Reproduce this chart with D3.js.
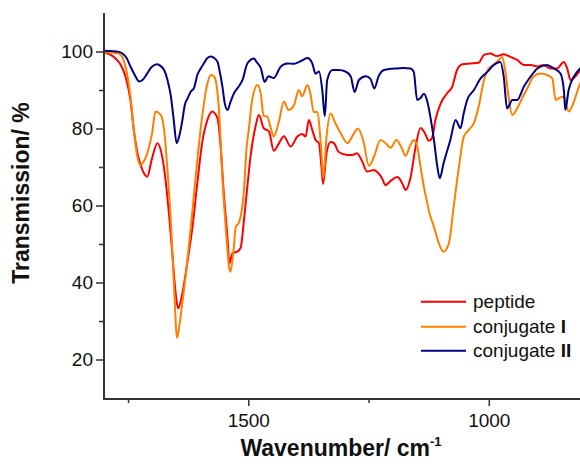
<!DOCTYPE html>
<html><head><meta charset="utf-8">
<script src="https://cdn.jsdelivr.net/npm/d3@7"></script>
<style>
html,body{margin:0;padding:0;background:#fff;}
svg{display:block;font-family:"Liberation Sans",Arial,sans-serif;}
</style></head>
<body><svg id="c" width="580" height="464"></svg>
<script>
// ---- data ----
const seriesNames = ["peptide", "conjugate I", "conjugate II"];
const xMajorTicks = [1500, 1000];
const xMinorTicks = [1750, 1250, 750];
const yMajorTicks = [20, 40, 60, 80, 100];
const yMinorTicks = [30, 50, 70, 90];

const pepWn = [1800,1786,1776,1765,1755,1745,1738,1727,1720,1710,1701,1689,1679,1672,1665,1658,1651,1646,1637,1627,1616,1606,1596,1585,1575,1564,1558,1551,1544,1539,1533,1523,1516,1509,1502,1495,1485,1478,1468,1457,1447,1436,1426,1412,1398,1388,1381,1374,1367,1360,1353,1348,1344.5,1337,1329,1322,1312,1294,1284,1274,1263,1253,1239,1232,1222,1215,1204,1190,1180,1173,1163,1152,1142,1132,1125,1118,1111,1100,1087,1076,1066,1055,1038,1021,1010,997,983,969,955,941,927,913,899,886,872,858,844,837,830,820,810,800];
const pepT = [99.8,99.1,98.2,96.5,93.4,87.4,79.6,71.8,69.2,67.5,71.8,76.2,72.7,66.6,58.0,47.6,37.2,33.3,37.2,45.0,54.5,65.8,76.2,82.2,84.4,82.6,76.2,63.2,52.8,45.0,47.6,48.0,49.0,56.2,64.9,73.1,80.5,83.5,80.1,79.2,74.2,76.2,78.0,75.3,77.9,78.6,77.9,82.2,79.6,77.0,76.2,70.1,65.6,73.9,76.5,76.2,73.9,73.1,73.1,73.6,71.4,68.8,69.2,68.7,67.1,65.3,66.4,67.4,65.8,64.0,67.1,75.3,80.1,78.6,76.8,77.5,82.2,86.5,89.1,90.9,95.2,96.7,96.9,97.1,99.1,99.5,98.8,99.3,98.6,97.8,96.5,96.5,96.1,96.5,95.6,95.6,97.3,95.6,92.6,93.5,95.2,96.5];

const conjIWn = [1800,1786,1769,1761,1755,1745,1738,1731,1724,1718,1710,1700,1693,1686,1680,1675,1668,1661,1655,1648,1644,1637,1627,1616,1606,1596,1585,1578,1572,1568,1561,1554,1547,1540,1537,1530,1526,1520,1509,1504,1499,1492,1481,1474,1468,1461,1454,1447,1436,1426,1416,1405,1395,1388,1377,1371,1364,1357,1349,1344,1338,1329,1319,1308,1294,1280,1272,1261,1249,1239,1225,1213,1204,1192,1181,1173,1163,1156,1149,1142,1135,1128,1125,1114,1104,1094,1083,1073,1062,1052,1042,1031,1021,1010,1000,990,979,972,965,959,951,941,931,920,907,893,879,868,861,855,844,834,827,816,810,800];
const conjIT = [99.9,99.8,99.5,98.3,96.0,88.3,79.6,72.9,70.5,71.3,73.6,78.8,84.4,84.0,83.0,79.6,69.2,55.7,40.7,25.6,28.2,34.9,45.3,58.8,71.8,83.0,91.7,93.9,93.6,92.6,84.8,67.5,54.5,44.1,42.8,49.3,54.5,55.4,64.0,74.4,79.6,87.4,91.3,89.0,83.2,83.1,80.5,77.9,82.0,87.0,84.8,86.1,90.0,88.4,91.3,89.1,84.3,84.3,75.7,67.1,77.0,83.9,81.4,78.8,76.2,78.8,80.0,76.8,70.3,72.6,77.0,76.0,75.0,77.0,74.9,72.9,75.7,77.0,75.5,70.1,64.9,60.7,58.8,54.5,50.2,48.0,50.2,59.7,70.1,77.9,79.6,81.4,85.7,92.6,95.6,96.5,97.8,98.6,94.3,88.3,83.5,85.2,87.8,90.4,93.5,94.3,93.9,93.0,87.4,87.8,88.3,84.4,85.7,89.6,91.7,93.1];

const conjIIWn = [1800,1786,1769,1761,1753,1745,1736,1727,1720,1710,1701,1689,1682,1675,1668,1661,1655,1649,1643,1637,1632,1626,1620,1613,1606,1599,1592,1585,1578,1572,1564,1560,1554,1549,1543,1537,1530,1520,1512,1502,1488,1483,1474,1466,1458,1447,1433,1419,1405,1391,1377,1367,1360,1353,1346,1341,1336,1325,1312,1298,1287,1279,1270,1256,1246,1238,1229,1218,1204,1190,1177,1163,1156,1149,1142,1135,1128,1121,1114,1107,1102,1094,1080,1069,1059,1052,1045,1031,1017,1003,990,976,969,962,951,941,927,913,899,879,865,851,844,841,834,823,810,800];
const conjIIT = [100.2,100.1,99.9,99.4,98.3,96.1,93.9,92.2,92.6,94.3,96.0,96.7,96.2,95.2,92.6,88.4,82.2,76.2,78.3,82.2,86.1,87.9,89.5,90.5,93.9,95.6,97.0,98.3,98.7,98.4,97.3,95.2,91.0,86.6,84.8,86.9,89.1,90.9,92.6,96.9,98.2,97.3,95.7,92.1,93.6,93.1,96.0,96.9,96.8,97.5,98.3,96.9,94.2,94.8,89.7,83.2,92.6,95.2,95.2,94.8,93.5,89.5,92.6,93.6,92.9,90.4,93.6,95.2,95.5,95.6,95.7,95.6,94.7,87.4,87.9,89.0,87.1,82.7,77.0,70.1,67.1,71.0,77.0,82.2,80.1,84.0,87.4,90.0,93.0,94.7,96.5,97.3,93.5,85.2,87.4,87.4,90.9,93.5,95.6,96.5,95.6,94.3,90.0,84.8,90.0,93.5,95.6,96.7];

const seriesColors = ["#ff0000", "#ff8000", "#000080"];

// ---- chart ----
const svg = d3.select("#c");
const pLeft = 104, pRight = 585, pTop = 13, pBottom = 398;
const x = d3.scaleLinear().domain([1800, 800]).range([pLeft, pRight]);
const y = d3.scaleLinear().domain([10, 110]).range([pBottom, pTop]);
const axisColor = "#333";

svg.append("defs").append("clipPath").attr("id", "clip")
  .append("rect").attr("x", pLeft).attr("y", pTop).attr("width", pRight - pLeft).attr("height", pBottom - pTop);

const series = [
  {wn: pepWn, t: pepT},
  {wn: conjIWn, t: conjIT},
  {wn: conjIIWn, t: conjIIT}
];
const line = d3.line().x(d => x(d[0])).y(d => y(d[1])).curve(d3.curveMonotoneX);
const gLines = svg.append("g").attr("clip-path", "url(#clip)");
series.forEach((s, i) => {
  const pts = s.wn.map((w, j) => [w, s.t[j]]);
  gLines.append("path").attr("d", line(pts)).attr("fill", "none")
    .attr("stroke", seriesColors[i]).attr("stroke-width", 2).attr("stroke-linejoin", "round");
});

// y axis
const yAxis = d3.axisLeft(y).tickValues(yMajorTicks).tickSize(8).tickPadding(3).tickFormat(d3.format("d"));
const gy = svg.append("g").attr("transform", `translate(${pLeft},0)`).call(yAxis);
gy.select(".domain").remove();
gy.append("line").attr("x1", 0).attr("x2", 0).attr("y1", pTop).attr("y2", pBottom + 1)
  .attr("stroke", axisColor).attr("stroke-width", 2);
gy.selectAll(".tick line").attr("stroke", axisColor).attr("stroke-width", 1.5);
gy.selectAll(".tick text").attr("font-size", 19).attr("fill", "#111")
  .attr("font-family", "'Liberation Sans',Arial,sans-serif");
const yMinor = d3.axisLeft(y).tickValues(yMinorTicks).tickSize(5).tickFormat("");
const gym = svg.append("g").attr("transform", `translate(${pLeft},0)`).call(yMinor);
gym.select(".domain").remove();
gym.selectAll(".tick line").attr("stroke", axisColor).attr("stroke-width", 1.5);

// x axis
const xAxis = d3.axisBottom(x).tickValues(xMajorTicks).tickSize(7).tickPadding(8).tickFormat(d3.format("d"));
const gx = svg.append("g").attr("transform", `translate(0,${pBottom + 1})`).call(xAxis);
gx.select(".domain").remove();
gx.append("line").attr("x1", pLeft - 1).attr("x2", 580).attr("y1", 0).attr("y2", 0)
  .attr("stroke", axisColor).attr("stroke-width", 2);
gx.selectAll(".tick line").attr("stroke", axisColor).attr("stroke-width", 1.5);
gx.selectAll(".tick text").attr("font-size", 19).attr("fill", "#111")
  .attr("font-family", "'Liberation Sans',Arial,sans-serif");
const xMinor = d3.axisBottom(x).tickValues(xMinorTicks).tickSize(4).tickFormat("");
const gxm = svg.append("g").attr("transform", `translate(0,${pBottom + 1})`).call(xMinor);
gxm.select(".domain").remove();
gxm.selectAll(".tick line").attr("stroke", axisColor).attr("stroke-width", 1.5);

// titles
const xt = svg.append("text").attr("x", 341).attr("y", 456).attr("text-anchor", "middle")
  .attr("font-size", 23).attr("font-weight", "bold").attr("fill", "#111");
xt.append("tspan").text("Wavenumber/ cm");
xt.append("tspan").attr("font-size", 13).attr("dy", -10).text("-1");

svg.append("text").attr("transform", "translate(29,193) rotate(-90)").attr("text-anchor", "middle")
  .attr("font-size", 23).attr("font-weight", "bold").attr("fill", "#111").text("Transmission/ %");

// legend
const legY = [301.7, 326.7, 350.7];
const legLabels = [["peptide", ""], ["conjugate ", "I"], ["conjugate ", "II"]];
legLabels.forEach((lab, i) => {
  svg.append("line").attr("x1", 421).attr("x2", 466).attr("y1", legY[i]).attr("y2", legY[i])
    .attr("stroke", seriesColors[i]).attr("stroke-width", 2);
  const t = svg.append("text").attr("x", 473).attr("y", legY[i]).attr("dy", "0.35em")
    .attr("font-size", 19).attr("fill", "#111");
  t.append("tspan").text(lab[0]);
  if (lab[1]) t.append("tspan").attr("font-weight", "bold").text(lab[1]);
});
</script></body></html>
